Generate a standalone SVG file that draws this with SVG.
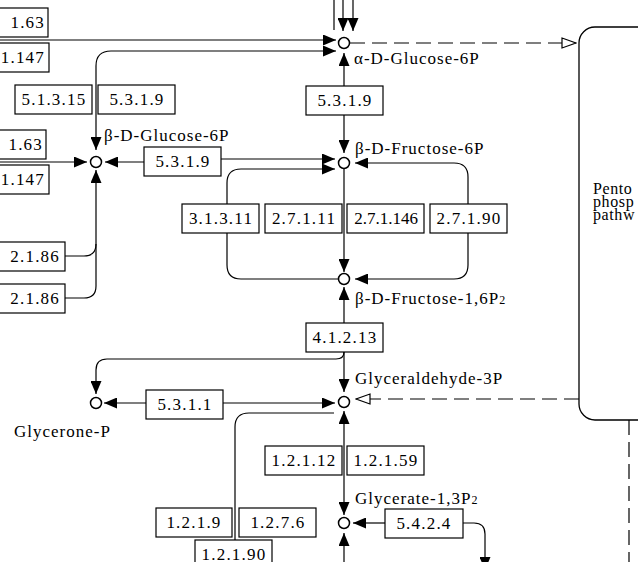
<svg xmlns="http://www.w3.org/2000/svg" width="638" height="562" viewBox="0 0 638 562">
<style>
.ln{fill:none;stroke:#000;stroke-width:1.2}
.ds{fill:none;stroke:#000;stroke-width:1.2;stroke-dasharray:15 7}
.bx rect{fill:#fff;stroke:#000;stroke-width:1.2}
.bx text{font-family:"Liberation Serif",serif;font-size:17px;letter-spacing:1.2px;text-anchor:middle;fill:#000}
.bx text.e{text-anchor:end}
.nd circle{fill:#fff;stroke:#000;stroke-width:1.5}
.lb{font-family:"Liberation Serif",serif;font-size:17px;letter-spacing:1px;fill:#000}
.pp{font-family:"Liberation Serif",serif;font-size:16px;letter-spacing:0.6px;fill:#000}
</style>
<defs>
<marker id="ah" viewBox="0 0 13 11" refX="13" refY="5.5" markerWidth="13" markerHeight="11" markerUnits="userSpaceOnUse" orient="auto-start-reverse">
<path d="M0,0 L13,5.5 L0,11 z" fill="#000"/>
</marker>
<marker id="oh" viewBox="0 0 16 12" refX="15" refY="6" markerWidth="16" markerHeight="12" markerUnits="userSpaceOnUse" orient="auto">
<path d="M1,1 L15,6 L1,11 z" fill="#fff" stroke="#000" stroke-width="1.2"/>
</marker>
</defs>
<rect width="638" height="562" fill="#fff"/>

<g id="pentose-phosphate">
<rect x="579" y="27" width="120" height="393" rx="16" fill="#fff" stroke="#000" stroke-width="1.3"/>
<text class="pp" x="593" y="194">Pento</text>
<text class="pp" x="593" y="207">phosp</text>
<text class="pp" x="593" y="220">pathw</text>
</g>

<g id="connectors">
<line class="ln" x1="334" y1="0" x2="334" y2="30"/>
<line class="ln" x1="343" y1="0" x2="343" y2="31" marker-end="url(#ah)"/>
<line class="ln" x1="353" y1="0" x2="353" y2="31" marker-end="url(#ah)"/>
<line class="ln" x1="0" y1="40" x2="336" y2="40" marker-end="url(#ah)"/>
<path class="ln" d="M96,150 L96,66 Q96,51 111,51 L336,51" marker-start="url(#ah)" marker-end="url(#ah)"/>
<line class="ln" x1="0" y1="162" x2="87" y2="162" marker-end="url(#ah)"/>
<path class="ln" d="M105,162 L180,162 L180,159 L335,159" marker-start="url(#ah)" marker-end="url(#ah)"/>
<path class="ln" d="M65,256 L84,256 Q96,256 96,244"/>
<path class="ln" d="M65,298 L84,298 Q96,298 96,286 L96,170" marker-end="url(#ah)"/>
<line class="ln" x1="344" y1="53" x2="344" y2="153" marker-start="url(#ah)" marker-end="url(#ah)"/>
<path class="ln" d="M335,169 L241,169 Q227,169 227,183 L227,265 Q227,279 241,279 L338,279" marker-start="url(#ah)"/>
<line class="ln" x1="344" y1="169" x2="344" y2="272" marker-end="url(#ah)"/>
<path class="ln" d="M355,163 L454,163 Q468,163 468,177 L468,265 Q468,279 454,279 L355,279" marker-start="url(#ah)" marker-end="url(#ah)"/>
<line class="ln" x1="344" y1="287" x2="344" y2="392" marker-start="url(#ah)" marker-end="url(#ah)"/>
<path class="ln" d="M344,352 Q344,359 336,359 L107,359 Q96,359 96,370 L96,394" marker-end="url(#ah)"/>
<line class="ln" x1="104" y1="403" x2="335" y2="403" marker-start="url(#ah)" marker-end="url(#ah)"/>
<path class="ln" d="M334,413 L249,413 Q235,413 235,427 L235,562"/>
<path class="ds" d="M350,43 L576,43" marker-end="url(#oh)"/>
<path class="ds" d="M579,399 L356,399" marker-end="url(#oh)"/>
<path class="ds" d="M629,420 L629,562"/>
<line class="ln" x1="344" y1="411" x2="344" y2="515" marker-start="url(#ah)" marker-end="url(#ah)"/>
<line class="ln" x1="385" y1="523" x2="353" y2="523" marker-end="url(#ah)"/>
<path class="ln" d="M463,523 L474,523 Q485,523 485,534 L485,570" marker-end="url(#ah)"/>
<line class="ln" x1="344" y1="562" x2="344" y2="533" marker-end="url(#ah)"/>
</g>

<g id="enzymes">
<g class="bx" id="e1"><rect x="-30" y="8" width="78" height="29"/><text class="e" x="45" y="28">1.63</text></g>
<g class="bx" id="e2"><rect x="-30" y="43" width="79" height="29"/><text class="e" x="45" y="63">1.147</text></g>
<g class="bx" id="e3"><rect x="15" y="85" width="77" height="29"/><text x="54" y="105">5.1.3.15</text></g>
<g class="bx" id="e4"><rect x="98" y="85" width="77" height="29"/><text x="137" y="105">5.3.1.9</text></g>
<g class="bx" id="e5"><rect x="-30" y="130" width="76" height="29"/><text class="e" x="43" y="150">1.63</text></g>
<g class="bx" id="e6"><rect x="-30" y="165" width="79" height="29"/><text class="e" x="45" y="185">1.147</text></g>
<g class="bx" id="e7"><rect x="144" y="147" width="77" height="29"/><text x="183" y="167">5.3.1.9</text></g>
<g class="bx" id="e8"><rect x="-30" y="242" width="95" height="29"/><text class="e" x="60" y="262">2.1.86</text></g>
<g class="bx" id="e9"><rect x="-30" y="284" width="95" height="29"/><text class="e" x="60" y="304">2.1.86</text></g>
<g class="bx" id="e10"><rect x="306" y="86" width="77" height="29"/><text x="345" y="106">5.3.1.9</text></g>
<g class="bx" id="e11"><rect x="182" y="204" width="77" height="29"/><text x="221" y="224">3.1.3.11</text></g>
<g class="bx" id="e12"><rect x="265" y="204" width="77" height="29"/><text x="304" y="224">2.7.1.11</text></g>
<g class="bx" id="e13"><rect x="347" y="204" width="77" height="29"/><text x="386" y="224" style="letter-spacing:0">2.7.1.146</text></g>
<g class="bx" id="e14"><rect x="430" y="204" width="77" height="29"/><text x="469" y="224">2.7.1.90</text></g>
<g class="bx" id="e15"><rect x="306" y="323" width="77" height="29"/><text x="345" y="343">4.1.2.13</text></g>
<g class="bx" id="e16"><rect x="146" y="390" width="77" height="29"/><text x="185" y="410">5.3.1.1</text></g>
<g class="bx" id="e17"><rect x="265" y="446" width="77" height="29"/><text x="304" y="466">1.2.1.12</text></g>
<g class="bx" id="e18"><rect x="347" y="446" width="77" height="29"/><text x="386" y="466">1.2.1.59</text></g>
<g class="bx" id="e19"><rect x="156" y="508" width="76" height="29"/><text x="194" y="528">1.2.1.9</text></g>
<g class="bx" id="e20"><rect x="239" y="508" width="77" height="29"/><text x="278" y="528">1.2.7.6</text></g>
<g class="bx" id="e21"><rect x="195" y="540" width="77" height="29"/><text x="234" y="560">1.2.1.90</text></g>
<g class="bx" id="e22"><rect x="385" y="509" width="78" height="29"/><text x="424" y="529">5.4.2.4</text></g>
</g>

<g id="n-aglc6p" class="nd"><circle cx="344" cy="43" r="5.5"/><text class="lb" x="354" y="64">α-D-Glucose-6P</text></g>
<g id="n-bglc6p" class="nd"><circle cx="96" cy="162" r="5.5"/><text class="lb" x="104" y="141">β-D-Glucose-6P</text></g>
<g id="n-bf6p" class="nd"><circle cx="344" cy="163" r="5.5"/><text class="lb" x="355" y="154">β-D-Fructose-6P</text></g>
<g id="n-f16p2" class="nd"><circle cx="344" cy="279" r="5.5"/><text class="lb" x="355" y="304">β-D-Fructose-1,6P<tspan font-size="12">2</tspan></text></g>
<g id="n-gap" class="nd"><circle cx="344" cy="402" r="5.5"/><text class="lb" x="355" y="384">Glyceraldehyde-3P</text></g>
<g id="n-dhap" class="nd"><circle cx="96" cy="403" r="5.5"/><text class="lb" x="14" y="437">Glycerone-P</text></g>
<g id="n-g13p2" class="nd"><circle cx="344" cy="523" r="5.5"/><text class="lb" x="355" y="504">Glycerate-1,3P<tspan font-size="12">2</tspan></text></g>
</svg>
